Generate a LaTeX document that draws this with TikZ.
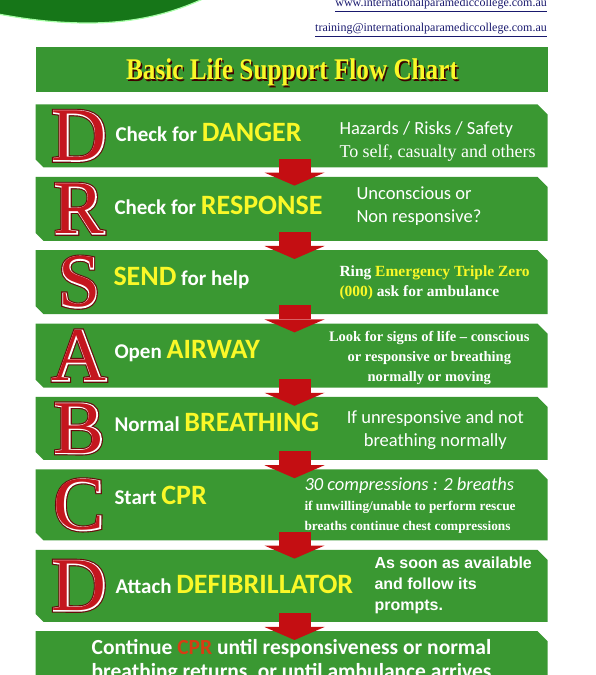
\documentclass[tikz,border=0pt]{standalone}
\usepackage{fontspec}
\usetikzlibrary{arrows.meta,positioning,calc}
\setmainfont{Liberation Serif}
\newfontfamily\stepfont{Carlito}
\newfontfamily\arialfont{Liberation Sans}
\newfontfamily\ltrouter[FakeBold=5.5]{Liberation Serif}
\newfontfamily\ltrinner[FakeBold=2.5]{Liberation Serif}
\definecolor{boxgreen}{RGB}{58,152,50}
\definecolor{titlegreen}{RGB}{56,150,50}
\definecolor{swoosh}{RGB}{22,118,24}
\definecolor{ylw}{RGB}{250,248,40}
\definecolor{arrred}{RGB}{196,14,18}
\definecolor{ltrred}{RGB}{196,22,30}
\definecolor{ltrdark}{RGB}{105,10,10}
\definecolor{urlblue}{RGB}{25,25,110}
\definecolor{cprred}{RGB}{215,60,20}
\newcommand{\yel}[1]{\textcolor{ylw}{#1}}
\newcommand{\keyword}[1]{\textcolor{ylw}{\fontsize{28}{28}\selectfont #1}}
\begin{document}
\begin{tikzpicture}[x=1pt,y=1pt,node distance=9pt,
box/.style={minimum width=512pt,inner sep=0pt,
  path picture={\fill[boxgreen] (path picture bounding box.north west)
    -- ([xshift=-10pt]path picture bounding box.north east) -- ([yshift=-10pt]path picture bounding box.north east)
    -- (path picture bounding box.south east) -- ([xshift=8pt]path picture bounding box.south west)
    -- ([yshift=8pt]path picture bounding box.south west) -- cycle;}},
banner/.style={fill=titlegreen,minimum width=512pt,minimum height=45pt,inner sep=0pt},
ttltext/.style={inner sep=0pt,xscale=0.84,font=\bfseries\fontsize{30}{30}\selectfont},
ltr/.style={inner sep=0pt,font=\fontsize{76}{76}\selectfont},
stepname/.style={anchor=west,inner sep=0pt,text=white,font=\stepfont\bfseries\fontsize{21}{24}\selectfont},
note/.style={anchor=west,inner sep=0pt,text=white,align=left,font=\stepfont\fontsize{18.5}{23}\selectfont},
flow/.style={draw=arrred,line width=32pt,-{Triangle[length=13pt 0 0,width=60pt 0 0,line width=0pt 0 0]}},
url/.style={anchor=east,inner sep=0pt,text=urlblue,font=\fontsize{12}{14}\selectfont}]
\useasboundingbox (0,0) rectangle (595,675);
\clip (0,0) rectangle (595,675);
% header
\fill[swoosh,draw=green!35!white,line width=1.2pt] (-2,677) -- (205,677) .. controls (160,656) and (120,652) .. (88,652)
  .. controls (50,652) and (20,657) .. (-2,661) -- cycle;
\node[url] (web) at (547,670) {\underline{www.internationalparamediccollege.com.au}};
\node[url] (mail) at (547,645) {\underline{training@internationalparamediccollege.com.au}};
\node[banner] (ttl) at (291.5,605.5) {};
\node[ttltext,text=black!75!red] (ttlsh) at (293.5,601) {Basic Life Support Flow Chart};
\node[ttltext,text=ylw] (ttltxt) at (292,603) {Basic Life Support Flow Chart};
% steps
\node[box,minimum height=63pt,below=12pt of ttl] (b1) {};
\node[box,minimum height=64pt,below=of b1] (b2) {};
\node[box,minimum height=64pt,below=of b2] (b3) {};
\node[box,minimum height=64pt,below=of b3] (b4) {};
\node[box,minimum height=63pt,below=of b4] (b5) {};
\node[box,minimum height=71pt,below=of b5] (b6) {};
\node[box,minimum height=72pt,below=of b6] (b7) {};
\node[box,minimum height=72pt,below=of b7] (b8) {};
\foreach \a/\b in {b1/b2,b2/b3,b3/b4,b4/b5,b5/b6,b6/b7,b7/b8}
  \draw[flow] ([xshift=3pt,yshift=9pt]\a.south) -- ([xshift=3pt,yshift=-9pt]\b.north);
% letters: dark rim, white line, red face
\foreach \i/\c in {1/D,2/R,3/S,4/A,5/B,6/C,7/D}{
  \node[ltr,text=ltrdark,font=\ltrouter\fontsize{76}{76}\selectfont] (lo\i) at ([xshift=44pt]b\i.west) {\c};
  \node[ltr,text=white,font=\ltrinner\fontsize{76}{76}\selectfont] (lw\i) at (lo\i) {\c};
  \node[ltr,text=ltrred] (l\i) at (lo\i) {\c};
}
% step names
\node[stepname] (s1) at ([xshift=80pt,yshift=3pt]b1.west) {Check for \keyword{DANGER}};
\node[stepname] (s2) at ([xshift=79pt,yshift=3pt]b2.west) {Check for \keyword{RESPONSE}};
\node[stepname] (s3) at ([xshift=78pt,yshift=4pt]b3.west) {\keyword{SEND} for help};
\node[stepname] (s4) at ([xshift=79pt,yshift=5pt]b4.west) {Open \keyword{AIRWAY}};
\node[stepname] (s5) at ([xshift=79pt,yshift=6pt]b5.west) {Normal \keyword{BREATHING}};
\node[stepname] (s6) at ([xshift=79pt,yshift=9pt]b6.west) {Start \keyword{CPR}};
\node[stepname] (s7) at ([xshift=80pt,yshift=1pt]b7.west) {Attach \keyword{DEFIBRILLATOR}};
% notes
\node[note] (n1) at ([xshift=304pt,yshift=-6pt]b1.west) {Hazards / Risks / Safety\\
  \rmfamily\fontsize{18}{23}\selectfont To self, casualty and others};
\node[note] (n2) at ([xshift=321pt,yshift=3pt]b2.west) {Unconscious or\\Non responsive?};
\node[note,font=\bfseries\fontsize{15.5}{20}\selectfont] (n3) at ([xshift=304pt,yshift=-1pt]b3.west)
  {Ring \yel{Emergency Triple Zero}\\\yel{(000)} ask for ambulance};
\node[note,anchor=center,align=center,font=\bfseries\fontsize{14.5}{20}\selectfont] (n4)
  at ([xshift=394pt,yshift=-2pt]b4.west) {Look for signs of life – conscious\\or responsive or breathing\\normally or moving};
\node[note,anchor=center,align=center] (n5) at ([xshift=400pt,yshift=-2pt]b5.west) {If unresponsive and not\\breathing normally};
\node[note,font=\bfseries\fontsize{13.3}{20}\selectfont] (n6) at ([xshift=269pt,yshift=-1pt]b6.west)
  {{\stepfont\mdseries\itshape\fontsize{18.5}{20}\selectfont 30 compressions : 2 breaths}\\
   if unwilling/unable to perform rescue\\breaths continue chest compressions};
\node[note,font=\arialfont\bfseries\fontsize{16}{21}\selectfont] (n7) at ([xshift=339pt]b7.west)
  {As soon as available\\and follow its\\prompts.};
\node[note,anchor=center,align=center,font=\stepfont\bfseries\fontsize{21.5}{24}\selectfont] (n8)
  at ([yshift=6pt]b8.center) {Continue \textcolor{cprred}{CPR} until responsiveness or normal\\breathing returns, or until ambulance arrives};
\end{tikzpicture}
\end{document}
